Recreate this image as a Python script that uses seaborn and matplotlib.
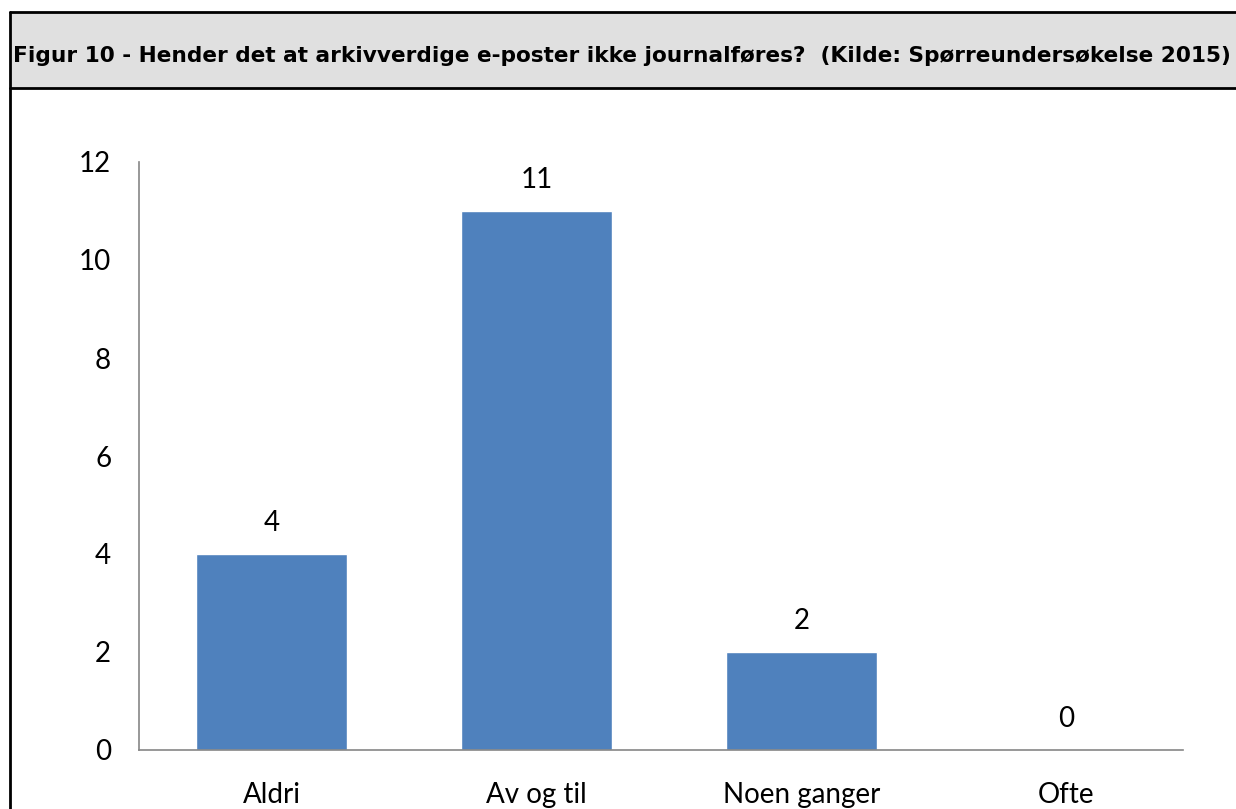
import matplotlib
matplotlib.use("Agg")
import matplotlib.pyplot as plt
import seaborn as sns
import pandas as pd
from matplotlib.patches import Rectangle
from matplotlib.lines import Line2D

categories = ["Aldri", "Av og til", "Noen ganger", "Ofte"]
values = [4, 11, 2, 0]
yticks = [0, 2, 4, 6, 8, 10, 12]
title = "Figur 10 - Hender det at arkivverdige e-poster ikke journalføres?  (Kilde: Spørreundersøkelse 2015)"

sns.set_theme(style="white")
plt.rcParams['font.family'] = ['Lato', 'DejaVu Sans']

W, H = 1236, 809
fig = plt.figure(figsize=(W / 100, H / 100), dpi=100)
fig.patch.set_facecolor("white")

# header box
fig.patches.append(Rectangle((10 / W, 1 - 88 / H), 1.0, (88 - 12) / H, transform=fig.transFigure,
                             facecolor="#E0E0E0", edgecolor="none", zorder=0))
lw = 2.0
for (x0, y0, x1, y1) in [(10, 12, W + 5, 12), (10, 88, W + 5, 88), (10, 12, 10, H + 5)]:
    fig.lines.append(Line2D([x0 / W, x1 / W], [1 - y0 / H, 1 - y1 / H], transform=fig.transFigure,
                            color="black", linewidth=lw, zorder=1))
fig.text(13 / W, 1 - 56 / H, title, fontsize=15.6, fontweight="bold", family=["DejaVu Sans"],
         ha="left", va="center", color="black")

df = pd.DataFrame({"cat": categories, "val": values})
ax = fig.add_axes([139 / W, 1 - 750 / H, (1183 - 139) / W, (750 - 162) / H])
sns.barplot(data=df, x="cat", y="val", color="#4F81BD", saturation=1, width=0.57, ax=ax)
ax.set_ylim(0, 12)
ax.set_yticks(yticks)
ax.set_xlim(-0.5, len(categories) - 0.56)
ax.set_xlabel("")
ax.set_ylabel("")
for s in ["top", "right"]:
    ax.spines[s].set_visible(False)
for s in ["left", "bottom"]:
    ax.spines[s].set_color("#868686")
    ax.spines[s].set_linewidth(1.2)
ax.tick_params(axis="both", length=0, labelsize=20, colors="black")
ax.tick_params(axis="y", pad=20)
ax.tick_params(axis="x", pad=23)
for i, v in enumerate(values):
    ax.annotate(str(v), (i, v), xytext=(0, 16.5), textcoords="offset points",
                ha="center", va="baseline", fontsize=20, color="black")

fig.savefig("out.png", dpi=100)
